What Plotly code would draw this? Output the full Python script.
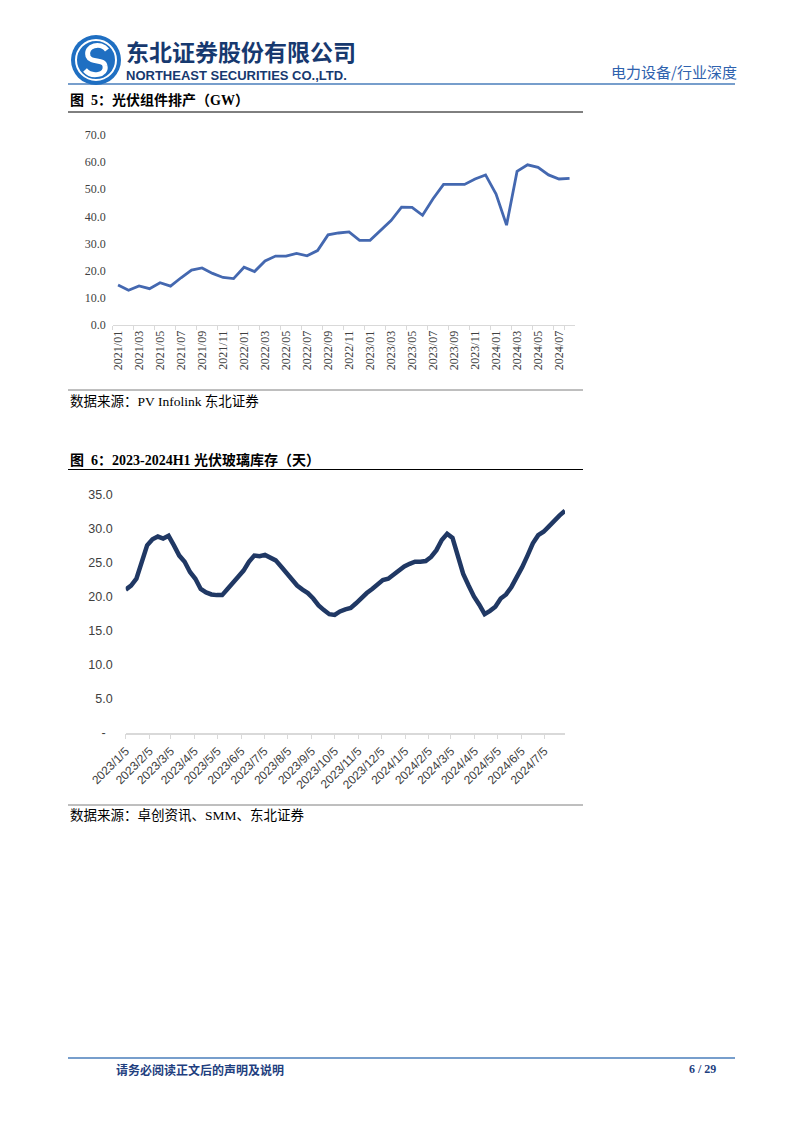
import plotly.graph_objects as go
import pandas as pd

# ---------------- data ----------------
months = [f"{y}/{m:02d}" for y in (2021, 2022, 2023, 2024) for m in range(1, 13)][:44]
module_output = [14.7, 12.8, 14.4, 13.4, 15.6, 14.3, 17.4, 20.2, 21.0, 19.0, 17.5, 17.1,
                 21.3, 19.7, 23.6, 25.4, 25.4, 26.4, 25.5, 27.4, 33.2, 33.9, 34.3, 31.2,
                 31.2, 34.8, 38.5, 43.4, 43.3, 40.4, 46.5, 51.8, 51.7, 51.8, 53.8, 55.3,
                 48.2, 36.8, 56.6, 59.0, 58.1, 55.3, 53.8, 54.0]
y1_ticks = [0, 10, 20, 30, 40, 50, 60, 70]

weeks = pd.date_range("2023-01-05", periods=83, freq="7D")
glass_days = [21.0, 21.6, 22.6, 25.1, 27.5, 28.4, 28.8, 28.5, 28.9, 27.5, 26.0, 25.1,
              23.6, 22.6, 21.1, 20.6, 20.3, 20.2, 20.2, 21.1, 22.1, 22.9, 23.8, 25.1,
              26.0, 25.9, 26.1, 25.7, 25.3, 24.4, 23.4, 22.5, 21.6, 21.0, 20.5, 19.7,
              18.7, 18.0, 17.4, 17.3, 17.8, 18.1, 18.3, 19.0, 19.8, 20.5, 21.1, 21.7,
              22.4, 22.6, 23.2, 24.0, 24.4, 24.8, 25.1, 25.1, 25.2, 25.8, 26.8, 28.3,
              29.2, 28.6, 26.0, 23.3, 21.6, 20.0, 18.8, 17.4, 17.9, 18.5, 19.7, 20.3,
              21.4, 22.8, 24.3, 26.0, 27.8, 29.0, 29.5, 30.3, 31.2, 31.9, 32.6]
x2_ticklabels = ["2023/1/5", "2023/2/5", "2023/3/5", "2023/4/5", "2023/5/5", "2023/6/5",
                 "2023/7/5", "2023/8/5", "2023/9/5", "2023/10/5", "2023/11/5", "2023/12/5",
                 "2024/1/5", "2024/2/5", "2024/3/5", "2024/4/5", "2024/5/5", "2024/6/5",
                 "2024/7/5"]
y2_ticks = [0, 5, 10, 15, 20, 25, 30, 35]
y2_ticklabels = ["-\u00a0\u00a0", "5.0", "10.0", "15.0", "20.0", "25.0", "30.0", "35.0"]

W, H = 802, 1133
OFF = 8  # page body margin compensation
def X(x): return (x - OFF) / W
def Y(y): return 1 - (y - OFF) / H

fig = go.Figure()

fig.add_trace(go.Scatter(x=months, y=module_output, mode="lines",
                         line=dict(color="#4468B0", width=2.8), xaxis="x", yaxis="y",
                         showlegend=False, hoverinfo="skip"))
fig.add_trace(go.Scatter(x=weeks, y=glass_days, mode="lines",
                         line=dict(color="#203864", width=4.5), xaxis="x2", yaxis="y2",
                         showlegend=False, hoverinfo="skip"))

serif = "Liberation Serif, Times New Roman, serif"
sans = "Liberation Sans, Arial, sans-serif"
cjk = "Noto Sans CJK SC"

fig.update_layout(
    template="none",
    width=W, height=H, margin=dict(l=0, r=0, t=0, b=0, pad=0, autoexpand=False),
    paper_bgcolor="white", plot_bgcolor="white", showlegend=False,
    xaxis=dict(domain=[X(112.8), X(574.8)], type="category",
               range=[-0.5, 43.5], automargin=False,
               tickmode="array", tickvals=months[::2], ticktext=months[::2],
               tickson="boundaries", ticks="outside", ticklen=4, tickcolor="#D9D9D9",
               tickangle=-90, showline=True, linecolor="#D9D9D9", linewidth=1,
               showgrid=False, zeroline=False,
               tickfont=dict(family=serif, size=12, color="#404040"), anchor="y"),
    yaxis=dict(domain=[Y(325), Y(135)], range=[0, 70], tickmode="array", automargin=False,
               tickvals=y1_ticks, ticktext=[f"{v:.1f}" for v in y1_ticks],
               showgrid=False, zeroline=False, showline=False, ticks="",
               ticklabelstandoff=6,
               tickfont=dict(family=serif, size=12, color="#404040"), anchor="x"),
    xaxis2=dict(domain=[X(125.7), X(565)], type="date", automargin=False,
                range=["2023-01-05", "2024-08-01"],
                tickmode="array",
                tickvals=[pd.Timestamp(s.replace("/", "-")) for s in x2_ticklabels],
                ticktext=x2_ticklabels, ticks="outside", ticklen=5, tickcolor="#D9D9D9",
                tickangle=-45, showline=True, linecolor="#D9D9D9", linewidth=1.5,
                showgrid=False, zeroline=False,
                tickfont=dict(family=sans, size=12, color="#404040"), anchor="y2"),
    yaxis2=dict(domain=[Y(732.7), Y(494.3)], range=[0, 35], tickmode="array",
                automargin=False,
                tickvals=y2_ticks, ticktext=y2_ticklabels,
                showgrid=False, zeroline=False, showline=False, ticks="",
                ticklabelstandoff=12,
                tickfont=dict(family=sans, size=12.5, color="#404040"), anchor="x2"),
)

shapes = []
def hline(y, x0, x1, color, width):
    shapes.append(dict(type="line", xref="paper", yref="paper", x0=X(x0), x1=X(x1),
                       y0=Y(y), y1=Y(y), line=dict(color=color, width=width)))

hline(84, 68, 735, "#4A7EBB", 1.5)      # header rule
hline(112, 68, 583, "#000000", 1)       # fig 5 title rule
hline(390, 68, 583, "#7F7F7F", 1)       # fig 5 source rule
hline(469.5, 68, 583, "#000000", 1)     # fig 6 title rule
hline(805, 68, 583, "#7F7F7F", 1)       # fig 6 source rule
hline(1058, 68, 735, "#4A7EBB", 1.5)    # footer rule

# logo
cx, cy, r = 96, 60, 25
shapes.append(dict(type="circle", xref="paper", yref="paper",
                   x0=X(cx - r), x1=X(cx + r), y0=Y(cy + r), y1=Y(cy - r),
                   fillcolor="#1F6FC2", line=dict(width=0)))
r2 = 20
shapes.append(dict(type="circle", xref="paper", yref="paper",
                   x0=X(cx - r2), x1=X(cx + r2), y0=Y(cy + r2), y1=Y(cy - r2),
                   line=dict(color="white", width=2)))
def P(x, y): return f"{X(x):.5f},{Y(y):.5f}"
path = (f"M {P(107,50)} C {P(101,42)} {P(85,45)} {P(88,56)} "
        f"C {P(91,64)} {P(104,58)} {P(105,66)} C {P(107,75)} {P(92,78)} {P(85,70)}")
shapes.append(dict(type="path", xref="paper", yref="paper", path=path,
                   line=dict(color="white", width=5)))
fig.update_layout(shapes=shapes)

ann = []
def text(x, y, s, size, color="#000000", family=cjk, xanchor="left", bold=False,
         yanchor="middle"):
    if bold:
        s = f"<b>{s}</b>"
    ann.append(dict(xref="paper", yref="paper", x=X(x), y=Y(y), text=s, showarrow=False,
                    xanchor=xanchor, yanchor=yanchor,
                    font=dict(family=family, size=size, color=color)))

text(124, 51, "东北证券股份有限公司", 23, "#17396F", cjk, bold=True)
text(124, 66, "NORTHEAST SECURITIES CO.,LTD.", 13, "#17396F",
     "Liberation Sans, Arial", bold=True, yanchor="top")
text(739, 72, "电力设备/行业深度", 15, "#2F62AE", cjk, xanchor="right")

text(68, 100, "图\u00a0\u00a05：光伏组件排产（GW）", 14, "#000000",
     "Liberation Serif, Noto Sans CJK SC", bold=True)
text(68, 401, "数据来源：PV Infolink 东北证券", 13.5, "#000000",
     "Liberation Serif, Noto Sans CJK SC")
text(68, 460, "图\u00a0\u00a06：2023-2024H1 光伏玻璃库存（天）", 14, "#000000",
     "Liberation Serif, Noto Sans CJK SC", bold=True)
text(68, 815, "数据来源：卓创资讯、SMM、东北证券", 13.5, "#000000",
     "Liberation Serif, Noto Sans CJK SC")

text(114, 1069, "请务必阅读正文后的声明及说明", 12, "#1F3F7F", cjk, bold=True)
text(718, 1069, "6 / 29", 12, "#1F3F7F", serif, xanchor="right", bold=True)

fig.update_layout(annotations=ann)

fig.write_html("out.html")
